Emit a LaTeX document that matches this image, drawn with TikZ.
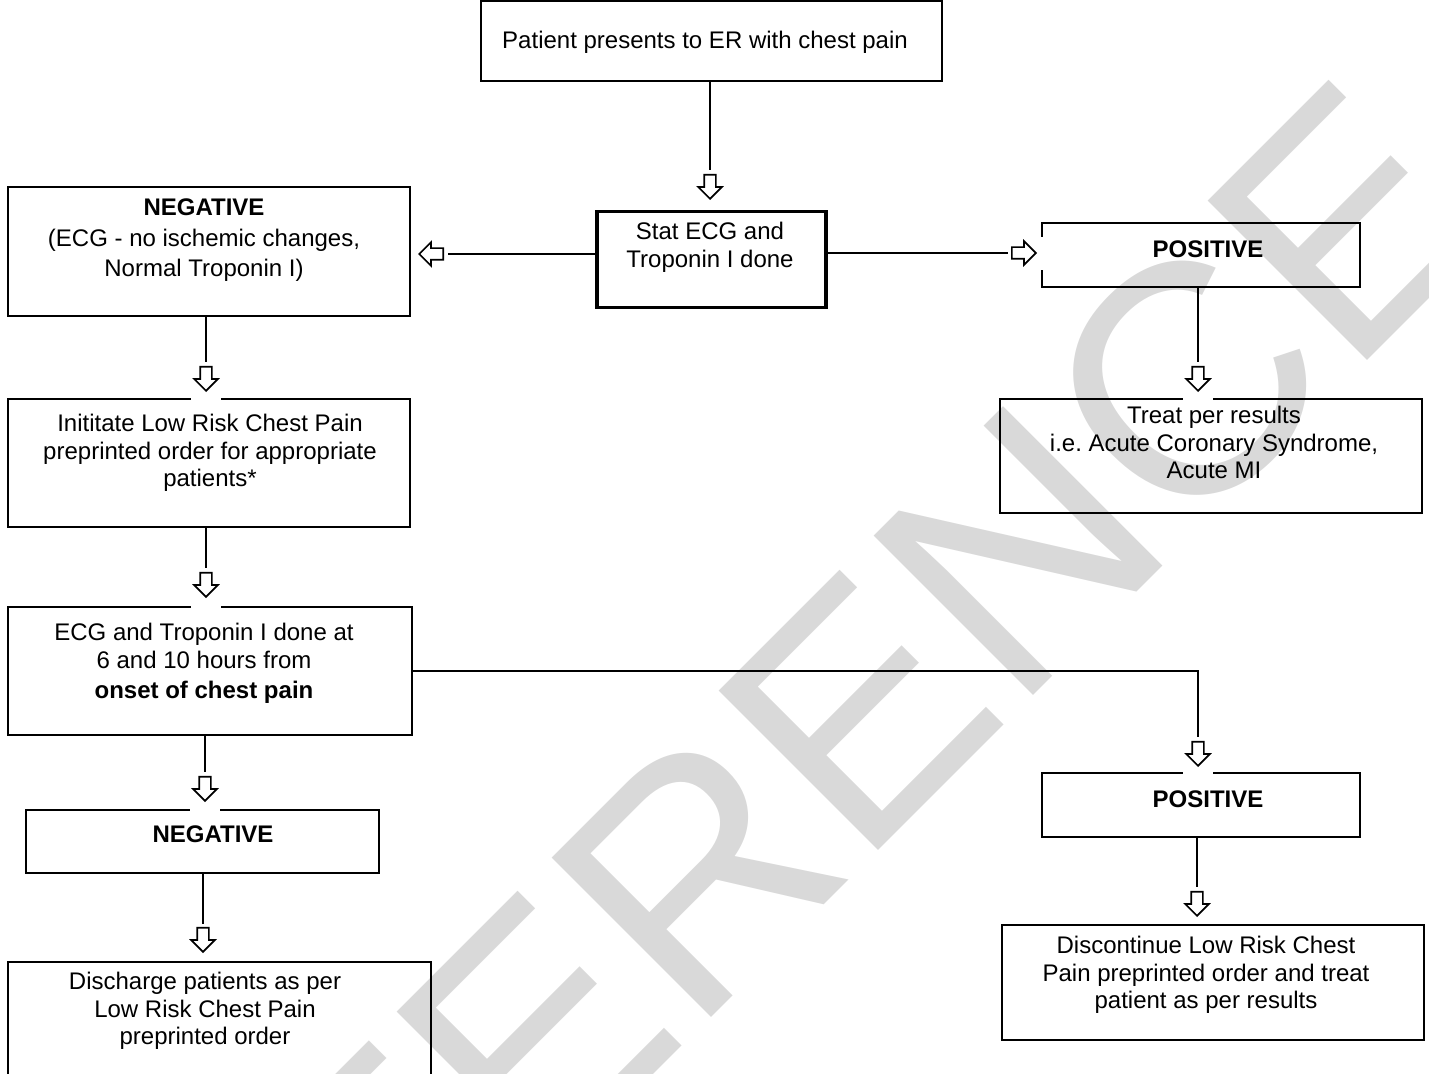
\documentclass[tikz,border=0pt]{standalone}
\usepackage{fontspec}
\setmainfont{Liberation Sans}
\usetikzlibrary{positioning,shapes.arrows,calc}
\definecolor{wmgray}{RGB}{217,217,217}

\begin{document}
\begin{tikzpicture}[
				x=0.02cm, y=-0.02cm,
				box/.style={rectangle, draw=black, line width=1.1pt, inner sep=0pt},
				thickbox/.style={box, line width=1.8pt},
				txt/.style={align=center, inner sep=0pt, anchor=north, font={\fontsize{13.66}{15.6}\selectfont}},
				arrowbase/.style={single arrow, draw=black, fill=white, line width=0.95pt, inner sep=0.1cm, minimum height=0.48cm, single arrow head extend=0.12cm, anchor=tip},
				downarr/.style={arrowbase, rotate=-90},
				leftarr/.style={arrowbase, rotate=180},
				rightarr/.style={arrowbase},
				conn/.style={line width=0.9pt, shorten >=0.07cm},
				watermark/.style={text=wmgray, inner sep=0pt, font={\fontsize{186.5}{187}\selectfont}}
			]
			\useasboundingbox (0,0) rectangle (1429,1074);
			\node[watermark, rotate=45] (wm) at (709,860) {REFERENCE};
			% boxes
			\node[box, minimum width=9.22cm, minimum height=1.6cm] (start) at (711.5,41) {};
			\node[thickbox, minimum width=4.58cm, minimum height=1.92cm] (stat) at (711.5,259.5) {};
			\node[box, minimum width=8.04cm, minimum height=2.58cm] (negbox) at (209,251.5) {};
			\node[box, minimum width=6.36cm, minimum height=1.28cm] (posbox) at (1201,255) {};
			\node[box, minimum width=8.44cm, minimum height=2.28cm] (treat) at (1211,456) {};
			\node[box, minimum width=8.04cm, minimum height=2.56cm] (initbox) at (209,463) {};
			\node[box, minimum width=8.08cm, minimum height=2.56cm] (ecgbox) at (210,671) {};
			\node[box, minimum width=7.06cm, minimum height=1.26cm] (neglow) at (202.5,841.5) {};
			\node[box, minimum width=8.46cm, minimum height=2.56cm] (discharge) at (219.5,1026) {};
			\node[box, minimum width=6.36cm, minimum height=1.28cm] (poslow) at (1201,805) {};
			\node[box, minimum width=8.44cm, minimum height=2.3cm] (discont) at (1213,982.5) {};
			% texts
			\node[txt] (starttext) at (705,31) {Patient presents to ER with chest pain};
			\node[txt] (stattext) at (710,222) {Stat ECG and\\Troponin I done};
			\node[txt] (negtext) at (204,198) {\textbf{NEGATIVE}\\[0.07cm](ECG - no ischemic changes,\\[0.06cm]Normal Troponin I)};
			\node[txt] (postext) at (1208,240) {\textbf{POSITIVE}};
			\node[txt] (treattext) at (1214,406) {Treat per results\\i.e.\ Acute Coronary Syndrome,\\Acute MI};
			\node[txt] (inittext) at (210,414) {Inititate Low Risk Chest Pain\\preprinted order for appropriate\\patients*};
			\node[txt] (ecgtext) at (204,623) {ECG and Troponin I done at\\6 and 10 hours from\\[0.06cm]\textbf{onset of chest pain}};
			\node[txt] (neglowtext) at (213,825) {\textbf{NEGATIVE}};
			\node[txt] (dischargetext) at (205,972) {Discharge patients as per\\Low Risk Chest Pain\\preprinted order};
			\node[txt] (poslowtext) at (1208,790) {\textbf{POSITIVE}};
			\node[txt] (discontext) at (1206,936) {Discontinue Low Risk Chest\\Pain preprinted order and treat\\patient as per results};
			% arrow heads
			\node[downarr] (arrstat) at (710,200) {};
			\node[leftarr] (arrneg) at (418,254) {};
			\node[rightarr] (arrpos) at (1037,253) {};
			\node[downarr] (arrinit) at (206,392) {};
			\node[downarr] (arrtreat) at (1198,392) {};
			\node[downarr] (arrecg) at (206,598) {};
			\node[downarr] (arrposlow) at (1198,767) {};
			\node[downarr] (arrneglow) at (205,802) {};
			\node[downarr] (arrdisch) at (203,953) {};
			\node[downarr] (arrdiscont) at (1197,917) {};
			\foreach \a in {arrinit,arrtreat,arrecg,arrposlow,arrneglow}
				\fill[white] ($(\a.tip)+(-15,1)$) rectangle ($(\a.tip)+(15,12)$);
			\fill[white] ($(arrpos.tip)+(1,-16)$) rectangle ($(arrpos.tip)+(9,17)$);
			% connectors
			\draw[conn] (start.south -| arrstat.tail) -- (arrstat.tail);
			\draw[conn] (stat.west |- arrneg.tail) -- (arrneg.tail);
			\draw[conn] (stat.east |- arrpos.tail) -- (arrpos.tail);
			\draw[conn] (negbox.south -| arrinit.tail) -- (arrinit.tail);
			\draw[conn] (posbox.south -| arrtreat.tail) -- (arrtreat.tail);
			\draw[conn] (initbox.south -| arrecg.tail) -- (arrecg.tail);
			\draw[conn] (ecgbox.east) -| (arrposlow.tail);
			\draw[conn] (ecgbox.south -| arrneglow.tail) -- (arrneglow.tail);
			\draw[conn] (neglow.south -| arrdisch.tail) -- (arrdisch.tail);
			\draw[conn] (poslow.south -| arrdiscont.tail) -- (arrdiscont.tail);
\end{tikzpicture}
\end{document}
